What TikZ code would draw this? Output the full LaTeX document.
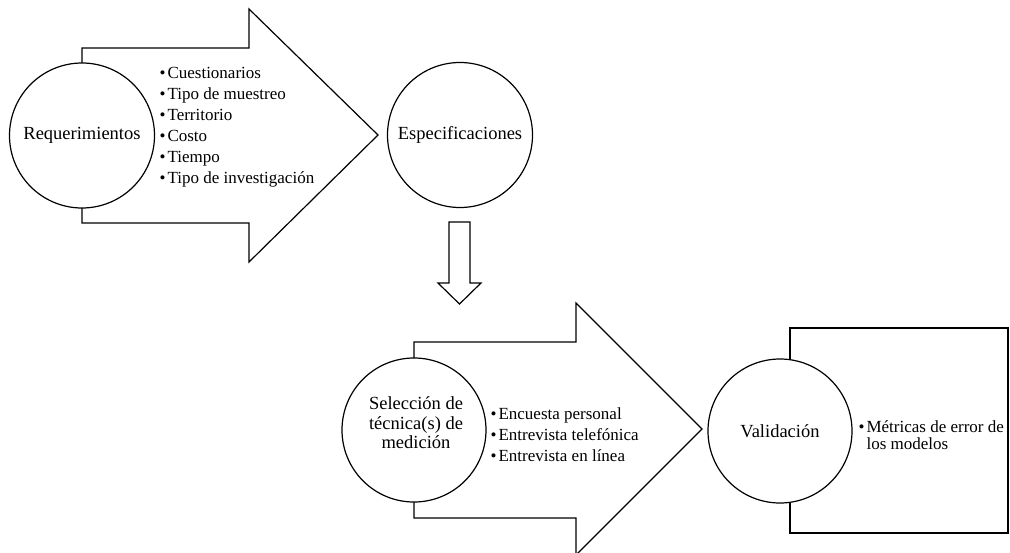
\documentclass[tikz,border=0pt]{standalone}
\usepackage{fontspec}
\setmainfont{Liberation Serif}
\newcommand\bul{\textbullet\hspace{2pt}}
\begin{document}
\begin{tikzpicture}[x=1pt,y=-1pt,line width=1.2pt,
  shp/.style={draw,fill=white,line join=miter},
  circ/.style={circle,draw,fill=white,minimum size=145pt,inner sep=0pt},
  ctext/.style={align=center,inner sep=0pt,font=\fontsize{18.5}{19.5}\selectfont},
  lst/.style={align=left,inner sep=0pt,anchor=west,font=\fontsize{17}{21}\selectfont}]
\useasboundingbox (0,0) rectangle (1010,552);
\clip (0,0) rectangle (1010,552);
% first arrow
\draw[shp] (82,48) -- (249,48) -- (249,9) -- (378,135) -- (249,262) -- (249,223) -- (82,223) -- cycle;
\node[circ] (c1) at (82,135.5) {};
\node[ctext] (t1) at (c1.center) {Requerimientos};
\node[lst] (l1) at (159,127) {\bul Cuestionarios\\\bul Tipo de muestreo\\\bul Territorio\\\bul Costo\\\bul Tiempo\\\bul Tipo de investigación};
\node[circ] (c2) at (460,135) {};
\node[ctext] (t2) at (c2.center) {Especificaciones};
% down arrow
\draw[shp] (449,222) -- (470,222) -- (470,283) -- (481,283) -- (459.5,304) -- (438,283) -- (449,283) -- cycle;
% second arrow
\draw[shp] (414,342) -- (576,342) -- (576,303) -- (702,429) -- (576,555) -- (576,518) -- (414,518) -- cycle;
\node[circ,minimum size=144pt] (c3) at (414,430) {};
\node[ctext] (t3) at (416,423) {Selección de\\técnica(s) de\\medición};
\node[lst] (l2) at (490,435) {\bul Encuesta personal\\\bul Entrevista telefónica\\\bul Entrevista en línea};
% validation box
\draw[shp] (790,328) rectangle (1008,533);
\node[circ,minimum size=144pt] (c4) at (780,431) {};
\node[ctext] (t4) at (c4.center) {Validación};
\node[lst,font=\fontsize{17}{17}\selectfont] (l3) at (858,435.5) {\bul Métricas de error de\\\phantom{\bul}los modelos};
\end{tikzpicture}
\end{document}
